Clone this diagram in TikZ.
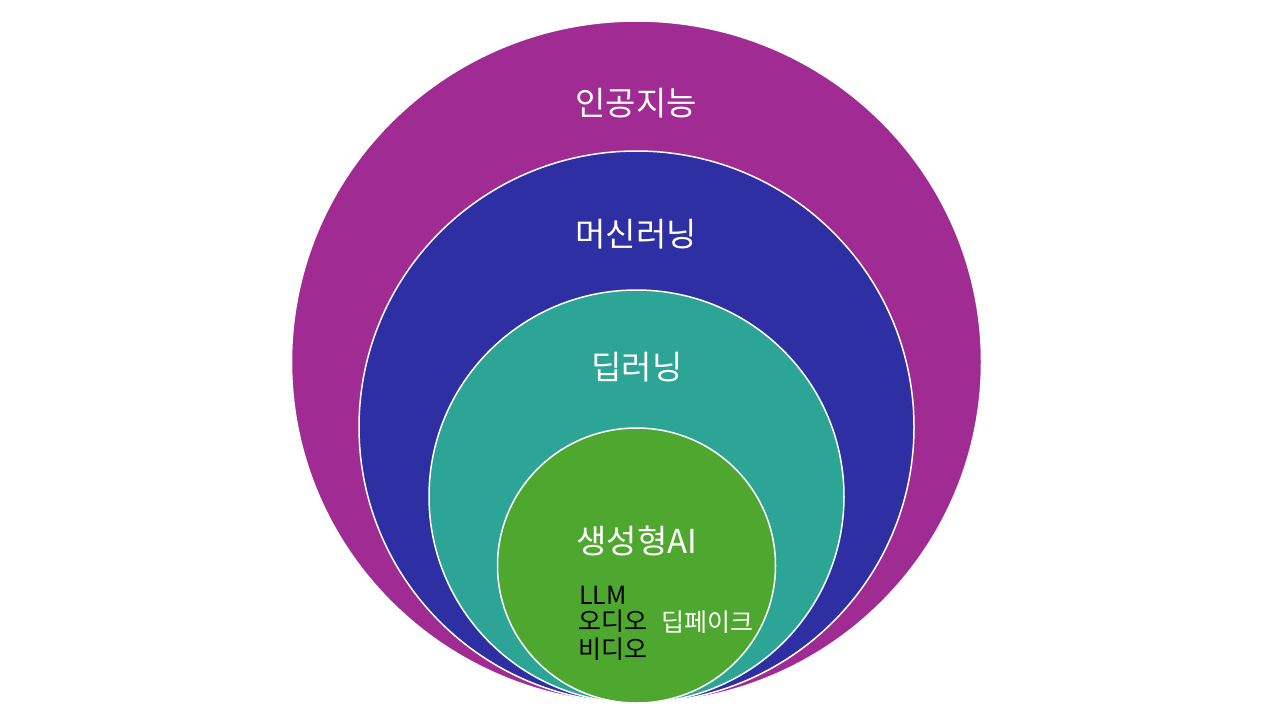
\documentclass[tikz,border=0pt]{standalone}
\usepackage{fontspec}
\setmainfont{Noto Sans CJK KR}
\definecolor{cpurple}{HTML}{A02B93}
\definecolor{cblue}{HTML}{2E2FA2}
\definecolor{cteal}{HTML}{2CA496}
\definecolor{cgreen}{HTML}{4EA72E}
\begin{document}
\begin{tikzpicture}[x=1pt,y=-1pt,
  ring/.style={draw=white,line width=1.5pt},
  big/.style={text=white,font=\fontsize{33}{38}\selectfont,inner sep=0pt},
  small/.style={font=\fontsize{25}{30}\selectfont,inner sep=0pt}]
\useasboundingbox[fill=white] (0,0) rectangle (1280,720);
\path[ring,fill=cpurple] (636.5,362) ellipse [x radius=345,y radius=341];
\path[ring,fill=cblue] (636.5,427) ellipse [x radius=277.5,y radius=276];
\path[ring,fill=cteal] (636.5,496.5) ellipse [x radius=207.5,y radius=206.5];
\path[ring,fill=cgreen] (636.5,565.5) ellipse [x radius=139,y radius=137.5];
\node[big] (ai) at (636,103) {인공지능};
\node[big] (ml) at (636,234) {머신러닝};
\node[big] (dl) at (637,367) {딥러닝};
\node[big] (gen) at (637,541) {생성형AI};
\node[small,anchor=west] (llm) at (579,595) {LLM};
\node[small,anchor=west] (audio) at (578,621) {오디오};
\node[small,anchor=west] (video) at (578,649) {비디오};
\node[small,anchor=west,text=white] (deep) at (661,622) {딥페이크};
\end{tikzpicture}
\end{document}
